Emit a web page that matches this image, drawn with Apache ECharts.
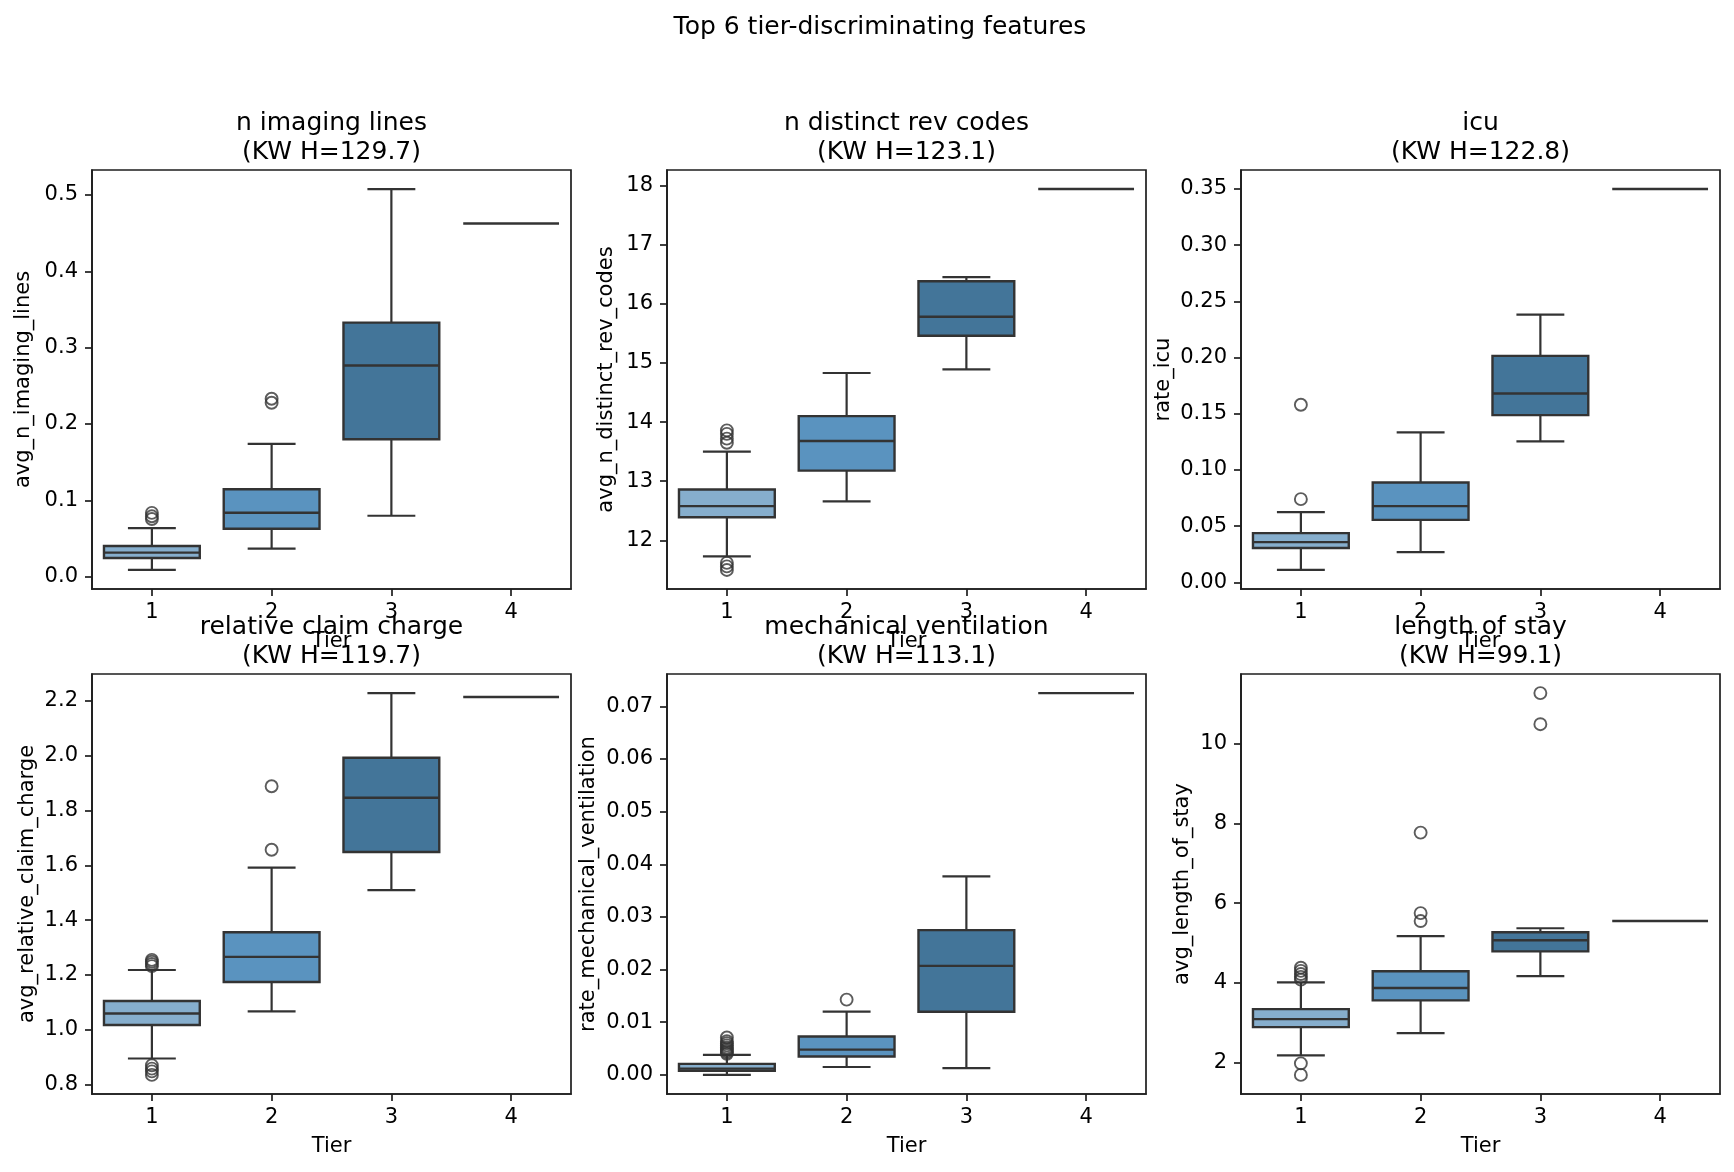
<!DOCTYPE html>
<html>
<head>
<meta charset="utf-8">
<script src="https://cdn.jsdelivr.net/npm/echarts@6/dist/echarts.min.js"></script>
<style>
html,body{margin:0;padding:0;background:#fff;}
#chart{width:1734px;height:1172px;}
</style>
</head>
<body>
<div id="chart"></div>
<script>
// ---------- DATA ----------
const tiers = ['1', '2', '3', '4'];

// [lower whisker, Q1, median, Q3, upper whisker] per tier
const imagingStats = [
  [0.0087, 0.0244, 0.0314, 0.0400, 0.0636],
  [0.0366, 0.0627, 0.0836, 0.1145, 0.1738],
  [0.0797, 0.1799, 0.2766, 0.3328, 0.5078],
  [0.4626, 0.4626, 0.4626, 0.4626, 0.4626]
];
const imagingOutliers = [[0, 0.0755], [0, 0.0790], [0, 0.0835], [1, 0.2278], [1, 0.2330]];
const imagingTicks = [0, 0.1, 0.2, 0.3, 0.4, 0.5];

const revStats = [
  [11.73, 12.39, 12.58, 12.86, 13.50],
  [12.66, 13.18, 13.68, 14.10, 14.83],
  [14.89, 15.46, 15.78, 16.38, 16.45],
  [17.94, 17.94, 17.94, 17.94, 17.94]
];
const revOutliers = [[0, 13.65], [0, 13.72], [0, 13.80], [0, 13.86], [0, 11.50], [0, 11.56], [0, 11.62]];
const revTicks = [12, 13, 14, 15, 16, 17, 18];

const icuStats = [
  [0.0110, 0.0305, 0.0358, 0.0438, 0.0624],
  [0.0269, 0.0556, 0.0678, 0.0888, 0.1334],
  [0.1254, 0.1488, 0.1680, 0.2015, 0.2382],
  [0.3500, 0.3500, 0.3500, 0.3500, 0.3500]
];
const icuOutliers = [[0, 0.0740], [0, 0.1580]];
const icuTicks = [0, 0.05, 0.10, 0.15, 0.20, 0.25, 0.30, 0.35];

const chargeStats = [
  [0.895, 1.017, 1.059, 1.105, 1.218],
  [1.067, 1.174, 1.266, 1.356, 1.592],
  [1.510, 1.649, 1.847, 1.993, 2.229],
  [2.215, 2.215, 2.215, 2.215, 2.215]
];
const chargeOutliers = [[0, 1.232], [0, 1.240], [0, 1.248], [0, 1.255], [0, 0.835], [0, 0.848], [0, 0.858], [0, 0.870], [1, 1.657], [1, 1.889]];
const chargeTicks = [0.8, 1.0, 1.2, 1.4, 1.6, 1.8, 2.0, 2.2];

const ventStats = [
  [0.0000, 0.0008, 0.0012, 0.0021, 0.0038],
  [0.0015, 0.0035, 0.0048, 0.0073, 0.0120],
  [0.0013, 0.0120, 0.0207, 0.0275, 0.0377],
  [0.0725, 0.0725, 0.0725, 0.0725, 0.0725]
];
const ventOutliers = [[0, 0.0040], [0, 0.0043], [0, 0.0046], [0, 0.0049], [0, 0.0052], [0, 0.0056], [0, 0.0060], [0, 0.0064], [0, 0.0071], [1, 0.0143]];
const ventTicks = [0, 0.01, 0.02, 0.03, 0.04, 0.05, 0.06, 0.07];

const stayStats = [
  [2.18, 2.89, 3.09, 3.34, 4.01],
  [2.74, 3.56, 3.87, 4.29, 5.17],
  [4.17, 4.79, 5.07, 5.27, 5.37],
  [5.55, 5.55, 5.55, 5.55, 5.55]
];
const stayOutliers = [[0, 4.08], [0, 4.15], [0, 4.22], [0, 4.30], [0, 4.38], [0, 1.98], [0, 1.69], [1, 5.55], [1, 5.75], [1, 7.77], [2, 10.49], [2, 11.27]];
const stayTicks = [2, 4, 6, 8, 10];

const featureTitles = ['n imaging lines', 'n distinct rev codes', 'icu', 'relative claim charge', 'mechanical ventilation', 'length of stay'];
const kwH = ['129.7', '123.1', '122.8', '119.7', '113.1', '99.1'];
const yNames = ['avg_n_imaging_lines', 'avg_n_distinct_rev_codes', 'rate_icu', 'avg_relative_claim_charge', 'rate_mechanical_ventilation', 'avg_length_of_stay'];
const mainTitle = 'Top 6 tier-discriminating features';
const xName = 'Tier';

// ---------- LAYOUT / STYLE ----------
const allStats = [imagingStats, revStats, icuStats, chargeStats, ventStats, stayStats];
const allOutliers = [imagingOutliers, revOutliers, icuOutliers, chargeOutliers, ventOutliers, stayOutliers];
const allTicks = [imagingTicks, revTicks, icuTicks, chargeTicks, ventTicks, stayTicks];
const decimals = [1, 0, 2, 1, 2, 0];
const nameGaps = [58, 50, 67, 54, 68, 48];
const tierColors = ['#86aecd', '#5a93bf', '#437599', '#437599'];
const colLeft = [92, 667, 1241];
const rowTop = [170, 674];
const gW = 479, gH = 419;
const FONT = 'DejaVu Sans';
const lineCol = '#333333';
const axisCol = '#1e1e1e';

const grids = [], xAxes = [], yAxes = [], series = [], graphics = [];

graphics.push({
  type: 'text', x: 880, y: 27,
  style: { text: mainTitle, fontFamily: FONT, fontSize: 25, fill: '#000', textAlign: 'center', textVerticalAlign: 'middle' }
});

function renderBox(params, api) {
  const x = api.value(0);
  const lo = api.value(1), q1 = api.value(2), med = api.value(3), q3 = api.value(4), hi = api.value(5);
  const band = api.size([1, 0])[0];
  const bw = band * 0.8, cw = bw * 0.5;
  const pLo = api.coord([x, lo]), pQ1 = api.coord([x, q1]), pMed = api.coord([x, med]);
  const pQ3 = api.coord([x, q3]), pHi = api.coord([x, hi]);
  const cx = pMed[0];
  const st = { stroke: lineCol, lineWidth: 2.2, fill: null };
  const children = [];
  if (q3 > q1) {
    children.push({ type: 'line', shape: { x1: cx, y1: pLo[1], x2: cx, y2: pQ1[1] }, style: st });
    children.push({ type: 'line', shape: { x1: cx, y1: pQ3[1], x2: cx, y2: pHi[1] }, style: st });
    children.push({ type: 'line', shape: { x1: cx - cw / 2, y1: pLo[1], x2: cx + cw / 2, y2: pLo[1] }, style: st });
    children.push({ type: 'line', shape: { x1: cx - cw / 2, y1: pHi[1], x2: cx + cw / 2, y2: pHi[1] }, style: st });
    children.push({ type: 'rect', shape: { x: cx - bw / 2, y: pQ3[1], width: bw, height: pQ1[1] - pQ3[1] },
      style: { fill: tierColors[x], stroke: lineCol, lineWidth: 2.4 } });
  }
  children.push({ type: 'line', shape: { x1: cx - bw / 2, y1: pMed[1], x2: cx + bw / 2, y2: pMed[1] }, style: { stroke: lineCol, lineWidth: 2.4 } });
  return { type: 'group', children: children };
}

for (let i = 0; i < 6; i++) {
  const r = Math.floor(i / 3), c = i % 3;
  const left = colLeft[c], top = rowTop[r];
  grids.push({
    left: left, top: top, width: gW, height: gH + (r === 1 ? 1 : 0),
    containLabel: false, show: true, borderColor: axisCol, borderWidth: 1.7, backgroundColor: 'transparent'
  });
  // axis extent like matplotlib autoscale (5% margins)
  const vals = [];
  allStats[i].forEach(s => s.forEach(v => vals.push(v)));
  allOutliers[i].forEach(o => vals.push(o[1]));
  const vmin = Math.min.apply(null, vals), vmax = Math.max.apply(null, vals);
  const pad = (vmax - vmin) * 0.05;
  const dec = decimals[i];
  xAxes.push({
    type: 'category', gridIndex: i, data: tiers, boundaryGap: true,
    name: xName, nameLocation: 'middle', nameGap: 42,
    nameTextStyle: { fontFamily: FONT, fontSize: 21, color: '#000', verticalAlign: 'top' },
    axisLine: { show: true, onZero: false, lineStyle: { color: axisCol, width: 1.7 } },
    axisTick: { show: true, alignWithLabel: true, length: 7, lineStyle: { color: axisCol, width: 1.7 } },
    axisLabel: { fontFamily: FONT, fontSize: 21, color: '#000', margin: 13 },
    splitLine: { show: false }
  });
  yAxes.push({
    type: 'value', gridIndex: i, min: vmin - pad, max: vmax + pad,
    name: yNames[i], nameLocation: 'middle', nameGap: nameGaps[i], nameRotate: 90,
    nameTextStyle: { fontFamily: FONT, fontSize: 21, color: '#000' },
    axisLine: { show: true, onZero: false, lineStyle: { color: axisCol, width: 1.7 } },
    axisTick: { show: true, length: 7, lineStyle: { color: axisCol, width: 1.7 }, customValues: allTicks[i] },
    axisLabel: { fontFamily: FONT, fontSize: 21, color: '#000', margin: 14, customValues: allTicks[i],
      formatter: function (v) { return Number(v).toFixed(dec); } },
    splitLine: { show: false }
  });
  series.push({
    type: 'custom', xAxisIndex: i, yAxisIndex: i,
    data: allStats[i].map((s, k) => [k].concat(s)),
    encode: { x: 0, y: [1, 2, 3, 4, 5] },
    renderItem: renderBox, silent: true, z: 2
  });
  series.push({
    type: 'scatter', xAxisIndex: i, yAxisIndex: i,
    data: allOutliers[i],
    symbol: 'circle', symbolSize: 12,
    itemStyle: { color: 'rgba(0,0,0,0)', borderColor: lineCol, borderWidth: 1.9 },
    silent: true, z: 3
  });
  const cxTitle = left + gW / 2;
  graphics.push({
    type: 'text', x: cxTitle, y: top - 47,
    style: { text: featureTitles[i], fontFamily: FONT, fontSize: 25, fill: '#000', textAlign: 'center', textVerticalAlign: 'middle' }
  });
  graphics.push({
    type: 'text', x: cxTitle, y: top - 18,
    style: { text: '(KW H=' + kwH[i] + ')', fontFamily: FONT, fontSize: 25, fill: '#000', textAlign: 'center', textVerticalAlign: 'middle' }
  });
}

const chart = echarts.init(document.getElementById('chart'), null, { renderer: 'canvas' });
chart.setOption({
  animation: false,
  backgroundColor: '#ffffff',
  grid: grids,
  xAxis: xAxes,
  yAxis: yAxes,
  series: series,
  graphic: graphics
});
</script>
</body>
</html>
